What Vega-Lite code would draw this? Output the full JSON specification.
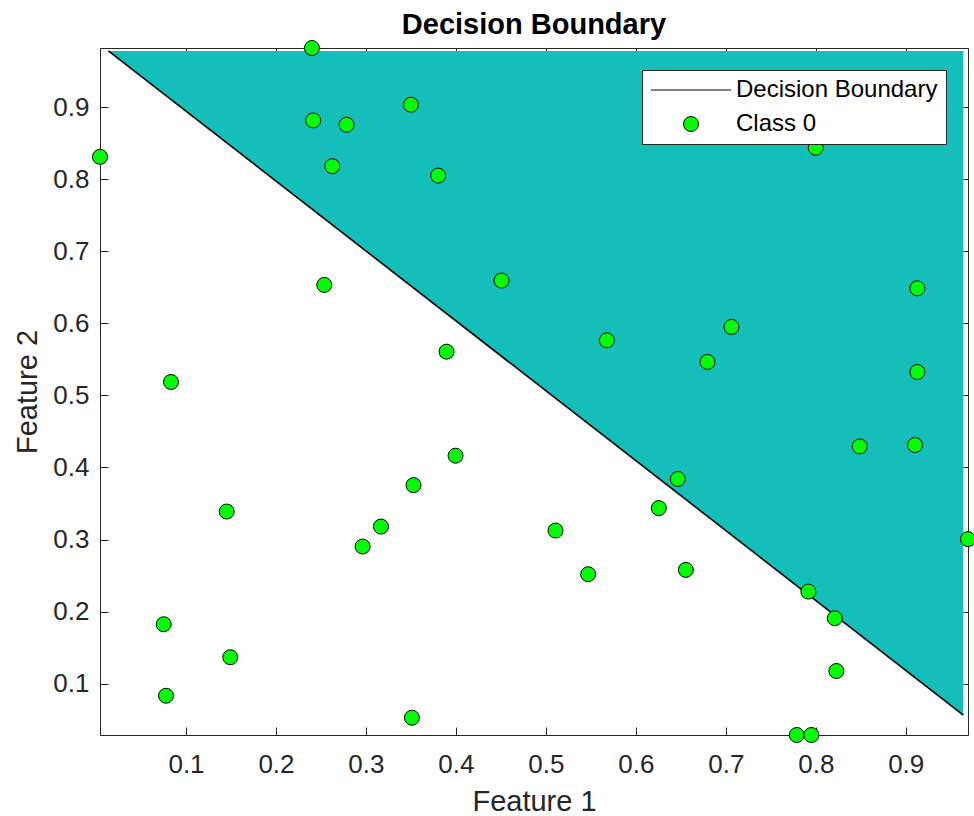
{
  "$schema": "https://vega.github.io/schema/vega-lite/v6.json",
  "width": 868,
  "height": 687,
  "autosize": "none",
  "padding": {"left": 100, "top": 48, "right": 6, "bottom": 81},
  "background": "white",
  "title": {"text": "Decision Boundary", "fontSize": 29, "fontWeight": "bold", "font": "Liberation Sans", "color": "black", "anchor": "middle", "baseline": "alphabetic", "offset": 14, "dy": 38},
  "config": {
    "view": {"stroke": null},
    "axis": {"grid": false, "domainColor": "#262626", "domainWidth": 1, "tickColor": "#262626", "tickWidth": 1, "tickSize": -8, "labelFlush": false, "labelOverlap": false, "labelBound": false, "labelFont": "Liberation Sans", "labelFontSize": 26, "labelColor": "#262626", "titleFont": "Liberation Sans", "titleFontSize": 29, "titleFontWeight": "normal", "titleColor": "#262626"},
    "legend": {"symbolStrokeWidth": 1, "symbolStrokeColor": "black", "symbolFillColor": "#00FF00"}
  },
  "datasets": {
    "boundary": [
      {"x": 0.0137, "y": 0.978},
      {"x": 0.964, "y": 0.0565}
    ],
    "points": [
      {"x": 0.240, "y": 0.982, "series": "Class 0"},
      {"x": 0.2414, "y": 0.8815, "series": "Class 0"},
      {"x": 0.2785, "y": 0.8755, "series": "Class 0"},
      {"x": 0.2626, "y": 0.818, "series": "Class 0"},
      {"x": 0.0044, "y": 0.831, "series": "Class 0"},
      {"x": 0.2537, "y": 0.6533, "series": "Class 0"},
      {"x": 0.0833, "y": 0.5186, "series": "Class 0"},
      {"x": 0.350, "y": 0.9033, "series": "Class 0"},
      {"x": 0.3803, "y": 0.805, "series": "Class 0"},
      {"x": 0.4507, "y": 0.6593, "series": "Class 0"},
      {"x": 0.5678, "y": 0.5764, "series": "Class 0"},
      {"x": 0.3896, "y": 0.5607, "series": "Class 0"},
      {"x": 0.800, "y": 0.8436, "series": "Class 0"},
      {"x": 0.9129, "y": 0.6486, "series": "Class 0"},
      {"x": 0.7063, "y": 0.595, "series": "Class 0"},
      {"x": 0.6796, "y": 0.5464, "series": "Class 0"},
      {"x": 0.9129, "y": 0.5325, "series": "Class 0"},
      {"x": 0.1452, "y": 0.3389, "series": "Class 0"},
      {"x": 0.3167, "y": 0.318, "series": "Class 0"},
      {"x": 0.2963, "y": 0.2903, "series": "Class 0"},
      {"x": 0.0752, "y": 0.1825, "series": "Class 0"},
      {"x": 0.1492, "y": 0.1367, "series": "Class 0"},
      {"x": 0.0778, "y": 0.0833, "series": "Class 0"},
      {"x": 0.3996, "y": 0.4163, "series": "Class 0"},
      {"x": 0.3529, "y": 0.3755, "series": "Class 0"},
      {"x": 0.5107, "y": 0.3125, "series": "Class 0"},
      {"x": 0.547, "y": 0.2519, "series": "Class 0"},
      {"x": 0.6255, "y": 0.3436, "series": "Class 0"},
      {"x": 0.6467, "y": 0.384, "series": "Class 0"},
      {"x": 0.8489, "y": 0.4292, "series": "Class 0"},
      {"x": 0.9103, "y": 0.4311, "series": "Class 0"},
      {"x": 0.9692, "y": 0.3006, "series": "Class 0"},
      {"x": 0.6556, "y": 0.2579, "series": "Class 0"},
      {"x": 0.7918, "y": 0.2278, "series": "Class 0"},
      {"x": 0.8211, "y": 0.1908, "series": "Class 0"},
      {"x": 0.8229, "y": 0.1176, "series": "Class 0"},
      {"x": 0.7789, "y": 0.0288, "series": "Class 0"},
      {"x": 0.7951, "y": 0.0288, "series": "Class 0"},
      {"x": 0.3511, "y": 0.0528, "series": "Class 0"}
    ]
  },
  "layer": [
    {
      "data": {"name": "boundary"},
      "mark": {"type": "area", "color": "#14BEB9", "interpolate": "linear", "orient": "vertical", "opacity": 1},
      "encoding": {
        "x": {"field": "x", "type": "quantitative", "scale": {"domain": [0.0044, 0.9692], "nice": false, "zero": false},
          "axis": {"orient": "bottom", "values": [0.1, 0.2, 0.3, 0.4, 0.5, 0.6, 0.7, 0.8, 0.9], "title": "Feature 1", "labelPadding": 24, "titlePadding": 10}},
        "y": {"field": "y", "type": "quantitative", "scale": {"domain": [0.0288, 0.982], "nice": false, "zero": false},
          "axis": {"orient": "left", "values": [0.1, 0.2, 0.3, 0.4, 0.5, 0.6, 0.7, 0.8, 0.9], "title": "Feature 2", "labelPadding": 19, "titlePadding": 10}},
        "y2": {"datum": 0.978}
      }
    },
    {
      "data": {"name": "boundary"},
      "mark": {"type": "line", "color": "black", "strokeWidth": 1.6},
      "encoding": {
        "x": {"field": "x", "type": "quantitative",
          "axis": {"orient": "top", "values": [0.1, 0.2, 0.3, 0.4, 0.5, 0.6, 0.7, 0.8, 0.9], "labels": false, "title": null}},
        "y": {"field": "y", "type": "quantitative",
          "axis": {"orient": "right", "values": [0.1, 0.2, 0.3, 0.4, 0.5, 0.6, 0.7, 0.8, 0.9], "labels": false, "title": null}}
      }
    },
    {
      "data": {"name": "points"},
      "mark": {"type": "point", "filled": true, "fill": "#00FF00", "strokeWidth": 1, "opacity": 1, "fillOpacity": 1, "strokeOpacity": 1, "size": 225},
      "encoding": {
        "x": {"field": "x", "type": "quantitative", "axis": null},
        "y": {"field": "y", "type": "quantitative", "axis": null},
        "stroke": {"field": "series", "type": "nominal",
          "scale": {"domain": ["Decision Boundary", "Class 0"], "range": ["black", "black"]},
          "legend": {"title": null, "orient": "top-right", "offset": 22, "symbolSize": 225, "symbolOpacity": 1, "symbolOffset": 29, "labelOffset": 33, "labelFont": "Liberation Sans", "labelFontSize": 24, "labelColor": "black", "labelLimit": 0, "fillColor": "white", "strokeColor": "#262626", "padding": 8, "rowPadding": 10, "cornerRadius": 0}},
        "shape": {"field": "series", "type": "nominal",
          "scale": {"domain": ["Decision Boundary", "Class 0"], "range": ["M-5.33,0H5.33", "circle"]},
          "legend": {"title": null, "orient": "top-right", "offset": 22, "symbolSize": 225, "symbolOpacity": 1, "symbolOffset": 29, "labelOffset": 33, "labelFont": "Liberation Sans", "labelFontSize": 24, "labelColor": "black", "labelLimit": 0, "fillColor": "white", "strokeColor": "#262626", "padding": 8, "rowPadding": 10, "cornerRadius": 0}}
      }
    }
  ],
  "resolve": {"axis": {"x": "independent", "y": "independent"}}
}
